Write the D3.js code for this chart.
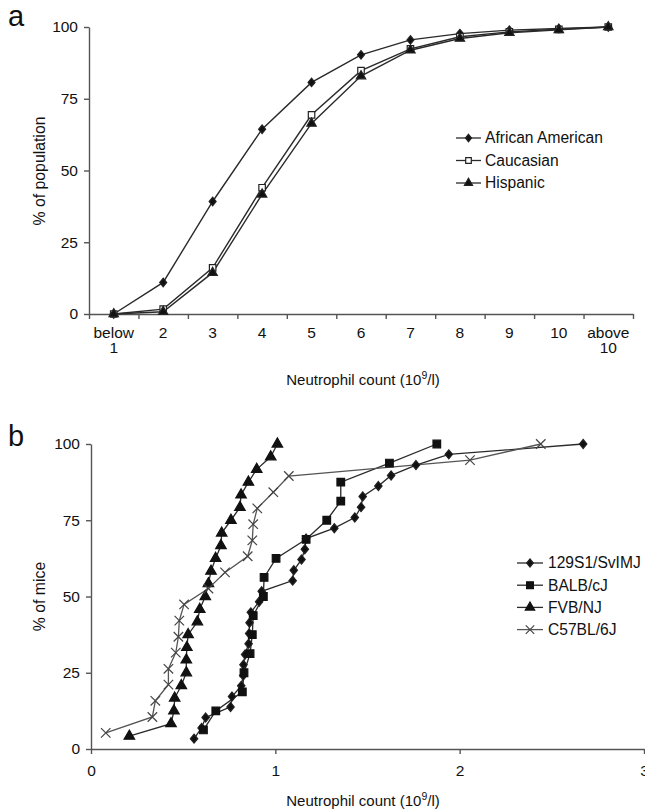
<!DOCTYPE html>
<html>
<head>
<meta charset="utf-8">
<script src="https://cdn.jsdelivr.net/npm/d3@7"></script>
<style>
  body { margin: 0; background: #fff; }
  svg text { font-family: "Liberation Sans", Arial, sans-serif; fill: #111; }
</style>
</head>
<body>
<div id="chart"></div>
<script>
// panel a: cumulative % of population by neutrophil count bin
const binsA = ["below 1","2","3","4","5","6","7","8","9","10","above 10"];
const africanAmerican = [0, 11, 39.2, 64.4, 80.7, 90.3, 95.5, 97.7, 98.9, 99.5, 100];
const caucasian       = [0, 1.7, 16.1, 44, 69.4, 84.8, 92.4, 96.6, 98.3, 99.2, 100];
const hispanic        = [0, 0.8, 14.4, 41.7, 66.4, 82.9, 91.9, 96, 98, 99, 100];
const yTicks = [0, 25, 50, 75, 100];

// panel b: cumulative % of mice per strain, [count, %]
const s129 = [[0.559,3.4],[0.60,6.9],[0.622,10.3],[0.757,13.8],[0.765,17.2],[0.815,20.7],[0.826,24.1],
  [0.827,27.6],[0.836,31],[0.855,34.5],[0.858,37.9],[0.86,41.4],[0.867,44.8],[0.912,48.3],[0.926,51.7],
  [1.094,55.2],[1.10,58.6],[1.142,62.1],[1.16,65.5],[1.167,69],[1.32,72.4],[1.431,75.9],[1.465,79.3],
  [1.474,82.8],[1.559,86.2],[1.628,89.7],[1.763,93.1],[1.941,96.6],[2.67,100]];
const balb = [[0.61,6.25],[0.677,12.5],[0.821,18.75],[0.83,25],[0.863,31.25],[0.875,37.5],[0.88,43.75],
  [0.935,50],[0.939,56.25],[1.004,62.5],[1.167,68.75],[1.279,75],[1.355,81.25],[1.355,87.5],[1.619,93.75],[1.876,100]];
const fvb = [[0.208,4.2],[0.434,8.3],[0.45,12.5],[0.454,16.7],[0.49,20.8],[0.517,25],[0.517,29.2],[0.52,33.3],
  [0.527,37.5],[0.577,41.7],[0.59,45.8],[0.62,50],[0.637,54.2],[0.651,58.3],[0.676,62.5],[0.705,66.7],
  [0.709,70.8],[0.759,75],[0.808,79.2],[0.814,83.3],[0.854,87.5],[0.899,91.7],[0.975,95.8],[1.011,100]];
const c57 = [[0.08,5.3],[0.333,10.5],[0.349,15.8],[0.42,21.1],[0.42,26.3],[0.46,31.6],[0.474,36.8],[0.479,42.1],
  [0.505,47.4],[0.637,52.6],[0.727,57.9],[0.85,63.2],[0.875,68.4],[0.88,73.7],[0.902,78.9],[0.989,84.2],
  [1.073,89.5],[2.056,94.7],[2.44,100]];
const xTicksB = [0, 1, 2, 3];

const W = 645, H = 812;
const axisColor = "#555";
const font = '"Liberation Sans", Arial, sans-serif';
const svg = d3.select("#chart").append("svg").attr("width", W).attr("height", H);

const timesSym = d3.symbolTimes || {
  draw(ctx, size) {
    const r = Math.sqrt(size / 7) * 0.6;
    ctx.moveTo(-r, -r); ctx.lineTo(r, r); ctx.moveTo(-r, r); ctx.lineTo(r, -r);
  }
};
// rotated-square diamond, a bit taller than wide
const diamondSym = {
  draw(ctx, size) {
    const r = Math.sqrt(size / 2);
    ctx.moveTo(0, -r * 1.1); ctx.lineTo(r * 0.9, 0); ctx.lineTo(0, r * 1.1); ctx.lineTo(-r * 0.9, 0); ctx.closePath();
  }
};

function marker(g, type, x, y, size, fill, stroke) {
  g.append("path")
    .attr("d", d3.symbol().type(type).size(size)())
    .attr("transform", `translate(${x},${y})`)
    .attr("fill", fill)
    .attr("stroke", stroke)
    .attr("stroke-width", 1.2);
}

function styleAxis(g) {
  g.select(".domain").attr("stroke", axisColor).attr("stroke-width", 1.4);
  g.selectAll(".tick line").attr("stroke", axisColor).attr("stroke-width", 1.4);
  g.selectAll(".tick text").attr("fill", "#111").style("font-size", "15.5px").style("font-family", font);
}

function xTitle(x, y) {
  const t = svg.append("text").attr("x", x).attr("y", y).attr("text-anchor", "middle")
    .style("font-size", "15px");
  t.append("tspan").text("Neutrophil count (10");
  t.append("tspan").text("9").attr("dy", -6).style("font-size", "10.5px");
  t.append("tspan").text("/l)").attr("dy", 6);
}

// ---------- panel a ----------
const xA = d3.scaleBand().domain(binsA).range([89, 633]);
const xAedge = d3.scaleLinear().domain([0, binsA.length]).range([89, 633]);
const yA = d3.scaleLinear().domain([0, 100]).range([314, 27]);

const gA = svg.append("g");
gA.append("g").attr("transform", "translate(89,0)")
  .call(d3.axisLeft(yA).tickValues(yTicks).tickSize(5).tickSizeOuter(0).tickPadding(6))
  .call(styleAxis);
gA.append("g").attr("transform", "translate(0,314)")
  .call(d3.axisBottom(xAedge).tickValues(d3.range(binsA.length + 1)).tickFormat("").tickSize(5).tickSizeOuter(0))
  .call(styleAxis);
const xLab = gA.append("g").attr("transform", "translate(0,314)")
  .call(d3.axisBottom(xA).tickSize(0).tickPadding(13))
  .call(styleAxis);
xLab.select(".domain").remove();
xLab.selectAll(".tick text").each(function(d) {
  const parts = d.split(" ");
  const t = d3.select(this).text(null);
  parts.forEach((p, i) => t.append("tspan").attr("x", 0).attr("dy", i ? "15px" : "0.71em").text(p));
});

const seriesA = [
  { name: "African American", vals: africanAmerican, sym: diamondSym, size: 30, fill: "#111" },
  { name: "Caucasian", vals: caucasian, sym: d3.symbolSquare, size: 42, fill: "#fff" },
  { name: "Hispanic", vals: hispanic, sym: d3.symbolTriangle, size: 38, fill: "#111" }
];
const lineA = d3.line().x((d, i) => xA(binsA[i]) + xA.bandwidth() / 2).y(d => yA(d));
seriesA.forEach(s => {
  gA.append("path").attr("d", lineA(s.vals)).attr("fill", "none")
    .attr("stroke", "#2a2a2a").attr("stroke-width", 1.4);
});
seriesA.forEach(s => {
  s.vals.forEach((v, i) => marker(gA, s.sym, xA(binsA[i]) + xA.bandwidth() / 2, yA(v), s.size, s.fill, "#222"));
});

svg.append("text").attr("transform", "translate(45,171) rotate(-90)")
  .attr("text-anchor", "middle").style("font-size", "15.8px").text("% of population");
xTitle(363, 385);
svg.append("text").attr("x", 8).attr("y", 26).style("font-size", "29px").text("a");

const legA = svg.append("g");
seriesA.forEach((s, i) => {
  const y = 138 + i * 22.5;
  legA.append("line").attr("x1", 456).attr("x2", 481).attr("y1", y).attr("y2", y)
    .attr("stroke", "#2a2a2a").attr("stroke-width", 1.3);
  marker(legA, s.sym, 468.5, y, s.size * 0.75, s.fill, "#222");
  legA.append("text").attr("x", 485).attr("y", y).attr("dy", "0.35em")
    .style("font-size", "15.6px").text(s.name);
});

// ---------- panel b ----------
const xB = d3.scaleLinear().domain([0, 3]).range([91, 644]);
const yB = d3.scaleLinear().domain([0, 100]).range([749, 444]);

const gB = svg.append("g");
gB.append("g").attr("transform", "translate(91,0)")
  .call(d3.axisLeft(yB).tickValues(yTicks).tickSize(5).tickSizeOuter(0).tickPadding(6))
  .call(styleAxis);
gB.append("g").attr("transform", "translate(0,749)")
  .call(d3.axisBottom(xB).tickValues(xTicksB).tickFormat(d3.format("d")).tickSize(5).tickSizeOuter(0).tickPadding(11))
  .call(styleAxis);

const seriesB = [
  { name: "129S1/SvIMJ", pts: s129, sym: diamondSym, size: 34, fill: "#111", stroke: "#222", line: "#2a2a2a" },
  { name: "BALB/cJ", pts: balb, sym: d3.symbolSquare, size: 58, fill: "#111", stroke: "#111", line: "#2a2a2a" },
  { name: "FVB/NJ", pts: fvb, sym: d3.symbolTriangle, size: 48, fill: "#111", stroke: "#111", line: "#2a2a2a" },
  { name: "C57BL/6J", pts: c57, sym: timesSym, size: 60, fill: "none", stroke: "#444", line: "#555" }
];
const lineB = d3.line().x(d => xB(d[0])).y(d => yB(d[1]));
seriesB.forEach(s => {
  gB.append("path").attr("d", lineB(s.pts)).attr("fill", "none")
    .attr("stroke", s.line).attr("stroke-width", 1.3);
});
seriesB.forEach(s => {
  s.pts.forEach(p => marker(gB, s.sym, xB(p[0]), yB(p[1]), s.size, s.fill, s.stroke));
});

svg.append("text").attr("transform", "translate(45,596.5) rotate(-90)")
  .attr("text-anchor", "middle").style("font-size", "15.8px").text("% of mice");
xTitle(363, 806);
svg.append("text").attr("x", 8).attr("y", 446).style("font-size", "29px").text("b");

const legB = svg.append("g");
seriesB.forEach((s, i) => {
  const y = 563 + i * 22.2;
  legB.append("line").attr("x1", 517).attr("x2", 543).attr("y1", y).attr("y2", y)
    .attr("stroke", s.line).attr("stroke-width", 1.3);
  marker(legB, s.sym, 530, y, s.size * 0.8, s.fill, s.stroke);
  legB.append("text").attr("x", 548).attr("y", y).attr("dy", "0.35em")
    .style("font-size", "15.6px").text(s.name);
});
</script>
</body>
</html>
